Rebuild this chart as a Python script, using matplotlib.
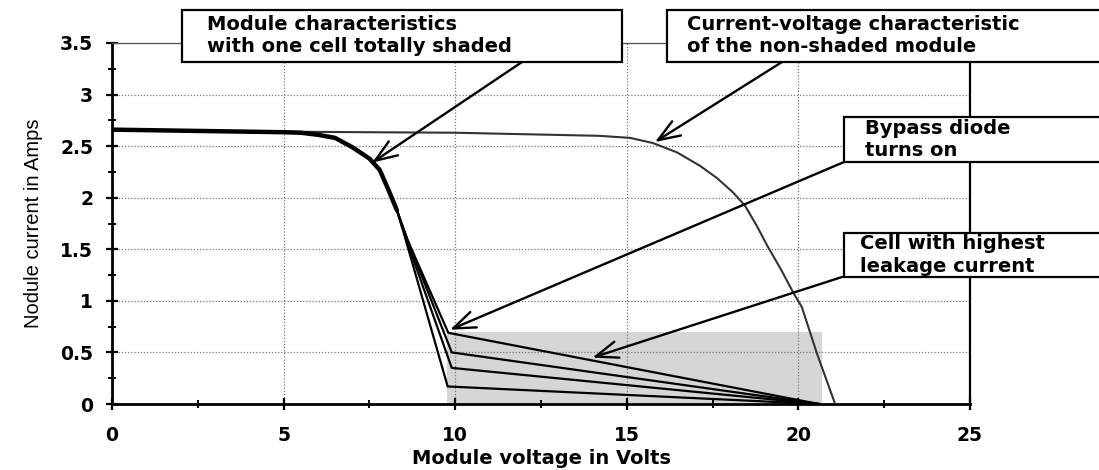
import matplotlib.pyplot as plt
from matplotlib.patches import Rectangle
from matplotlib.ticker import MultipleLocator

# non-shaded module I-V curve
v_clear = [0, 5, 10, 14.2, 15.1, 15.76, 16.46, 17.13, 17.63, 18.1, 18.45, 18.8, 19.1, 19.5, 19.85, 20.1, 20.54, 21.07]
i_clear = [2.66, 2.64, 2.63, 2.60, 2.58, 2.53, 2.44, 2.31, 2.19, 2.05, 1.92, 1.72, 1.53, 1.30, 1.08, 0.94, 0.49, 0.0]

# shaded module: common upper part, then one branch per cell leakage
v_common = [0, 2, 4, 5, 5.5, 6, 6.5, 7, 7.5, 7.8, 8.05, 8.3]
i_common = [2.66, 2.65, 2.64, 2.635, 2.63, 2.61, 2.58, 2.49, 2.38, 2.27, 2.08, 1.88]
v_branches = [[8.6, 9.8, 20.6], [8.6, 9.9, 20.6], [8.55, 9.9, 20.6], [8.5, 9.78, 20.6]]
i_branches = [[1.6, 0.69, 0.0], [1.6, 0.50, 0.0], [1.62, 0.35, 0.0], [1.66, 0.17, 0.0]]

# grey area where the bypass diode conducts
shade_v = [9.77, 20.7]
shade_i = 0.70

# callouts: text, box (left, top, right, bottom in px from top-left), arrow start px, arrow target (V, I)
notes = ['Module characteristics\nwith one cell totally shaded',
         'Current-voltage characteristic\nof the non-shaded module',
         'Bypass diode\nturns on',
         'Cell with highest\nleakage current']
boxes = [(182, 10, 622, 62), (667, 10, 1105, 62), (844, 117, 1105, 162), (844, 233, 1105, 277)]
text_x = [207, 687, 865, 860]
arrow_from = [(522, 62), (782, 62), (844, 162), (842, 277)]
arrow_to = [(7.58, 2.34), (15.82, 2.54), (9.85, 0.72), (14.0, 0.45)]

W, H = 1099, 470
fig = plt.figure(figsize=(W / 100, H / 100), dpi=100)
ax = fig.add_axes([112 / W, 66 / H, (970 - 112) / W, (404 - 43) / H])

ax.add_patch(Rectangle((shade_v[0], 0), shade_v[1] - shade_v[0], shade_i,
                       facecolor='#d6d6d6', edgecolor='none', zorder=1))

ax.plot(v_clear, i_clear, color='#333333', lw=1.5, zorder=3)
ax.plot(v_common, i_common, color='black', lw=3.2, solid_capstyle='round', zorder=3)
for vb, ib in zip(v_branches, i_branches):
    ax.plot([v_common[-1]] + vb, [i_common[-1]] + ib, color='black', lw=1.6, zorder=3)

ax.set_xlim(0, 25)
ax.set_ylim(0, 3.5)
ax.xaxis.set_major_locator(MultipleLocator(5))
ax.xaxis.set_minor_locator(MultipleLocator(2.5))
ax.yaxis.set_major_locator(MultipleLocator(0.5))
ax.yaxis.set_minor_locator(MultipleLocator(0.25))
ax.set_yticks([0, 0.5, 1, 1.5, 2, 2.5, 3, 3.5])
ax.set_yticklabels(['0', '0.5', '1', '1.5', '2', '2.5', '3', '3.5'])

ax.grid(True, which='major', color='#777777', lw=0.9, linestyle=(0, (1, 1.5)), zorder=0)
ax.tick_params(which='major', direction='inout', length=9, width=1.6, pad=9)
ax.tick_params(which='minor', direction='inout', length=6, width=1.4)
ax.tick_params(axis='x', which='major', pad=11)
for lab in ax.get_xticklabels() + ax.get_yticklabels():
    lab.set_fontweight('bold')
    lab.set_fontsize(13.5)
    lab.set_family('DejaVu Sans')

for side in ['left', 'bottom']:
    ax.spines[side].set_linewidth(2)
ax.spines['right'].set_linewidth(1.6)
ax.spines['top'].set_linewidth(0.9)
ax.spines['top'].set_color('#555555')

ax.set_xlabel('Module voltage in Volts', fontsize=14, fontweight='bold', family='DejaVu Sans', labelpad=3)
ax.set_ylabel('Nodule current in Amps', fontsize=14.5, family=['Liberation Sans Narrow', 'Liberation Sans'],
              labelpad=12)

# callout boxes and arrows
for txt, (l, t, r, b), tx, (fx, fy), (av, ai) in zip(notes, boxes, text_x, arrow_from, arrow_to):
    fig.patches.append(Rectangle((l, H - b), r - l, b - t, transform=None,
                                 facecolor='white', edgecolor='black', lw=1.6, zorder=5))
    fig.text(tx / W, 1 - (t + b) / 2 / H, txt, ha='left', va='center', fontsize=14,
             fontweight='bold', family='DejaVu Sans', linespacing=1.2, zorder=6)
    ax.annotate('', xy=(av, ai), xycoords='data', xytext=(fx, H - fy), textcoords='figure pixels',
                arrowprops=dict(arrowstyle='->,head_length=0.8,head_width=0.3', lw=1.7,
                                color='black', shrinkA=0, shrinkB=0, mutation_scale=20),
                annotation_clip=False, zorder=4)

fig.savefig('out.png', dpi=100)
